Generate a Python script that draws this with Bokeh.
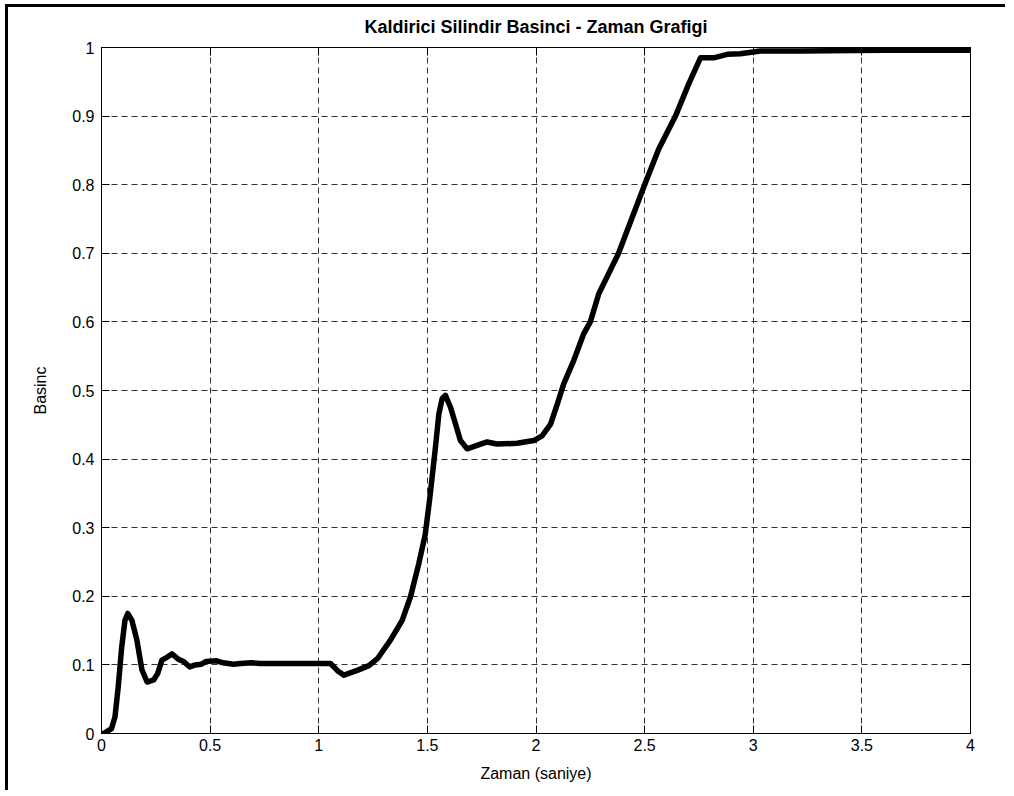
from bokeh.plotting import figure
from bokeh.models import LinearAxis, Range1d, FixedTicker
from bokeh.embed import file_html
from bokeh.resources import INLINE

# Time (s) and pressure values
t = [0.0, 0.01, 0.046, 0.062, 0.077, 0.093, 0.108, 0.121, 0.14, 0.163, 0.186, 0.21,
     0.24, 0.258, 0.278, 0.301, 0.324, 0.355, 0.378, 0.406, 0.432, 0.46, 0.482, 0.53,
     0.56, 0.607, 0.64, 0.692, 0.73, 0.8, 0.9, 1.0, 1.054, 1.085, 1.116, 1.177, 1.231,
     1.27, 1.33, 1.384, 1.422, 1.46, 1.49, 1.51, 1.522, 1.537, 1.553, 1.568, 1.583,
     1.606, 1.629, 1.652, 1.683, 1.729, 1.775, 1.82, 1.913, 1.99, 2.028, 2.067, 2.098,
     2.128, 2.174, 2.22, 2.25, 2.289, 2.38, 2.5, 2.565, 2.642, 2.703, 2.757, 2.818,
     2.88, 2.94, 3.033, 3.22, 3.6, 4.0]
pressure = [0.0, 0.0, 0.007, 0.024, 0.068, 0.126, 0.165, 0.175, 0.165, 0.136, 0.093, 0.075,
            0.078, 0.087, 0.107, 0.111, 0.116, 0.108, 0.105, 0.097, 0.100, 0.101, 0.105, 0.106,
            0.103, 0.101, 0.102, 0.103, 0.102, 0.102, 0.102, 0.102, 0.102, 0.092, 0.085, 0.092, 0.099,
            0.109, 0.136, 0.165, 0.199, 0.247, 0.29, 0.34, 0.374, 0.417, 0.466, 0.488, 0.493,
            0.476, 0.452, 0.427, 0.415, 0.42, 0.425, 0.422, 0.423, 0.427, 0.434, 0.451, 0.48,
            0.51, 0.544, 0.583, 0.6, 0.641, 0.7, 0.8, 0.852, 0.9, 0.947, 0.985, 0.985,
            0.99, 0.991, 0.995, 0.995, 0.996, 0.996]

x_ticks = [0, 0.5, 1, 1.5, 2, 2.5, 3, 3.5, 4]
y_ticks = [0, 0.1, 0.2, 0.3, 0.4, 0.5, 0.6, 0.7, 0.8, 0.9, 1]
x_labels = {0: "0", 0.5: "0.5", 1: "1", 1.5: "1.5", 2: "2", 2.5: "2.5", 3: "3", 3.5: "3.5", 4: "4"}
y_labels = {0: "0", 0.1: "0.1", 0.2: "0.2", 0.3: "0.3", 0.4: "0.4", 0.5: "0.5",
            0.6: "0.6", 0.7: "0.7", 0.8: "0.8", 0.9: "0.9", 1: "1"}

FONT = "Liberation Sans"

p = figure(width=1000, height=786, output_backend="svg", toolbar_location=None,
           x_range=Range1d(0, 4), y_range=Range1d(0, 1),
           min_border_left=93, min_border_right=38, min_border_top=40, min_border_bottom=60,
           x_axis_label="Zaman (saniye)", y_axis_label="Basinc",
           title="Kaldirici Silindir Basinci - Zaman Grafigi")

p.styles = {"border-top": "3px solid black", "border-left": "3px solid black",
            "margin-left": "5px", "margin-top": "4px"}

p.title.align = "center"
p.title.vertical_align = "top"
p.title.text_font = FONT
p.title.text_font_size = "18px"
p.title.text_font_style = "bold"
p.title.text_color = "black"
p.title.standoff = 18

p.outline_line_color = "black"
p.outline_line_width = 1
p.background_fill_color = "white"
p.border_fill_color = "white"

for ax in [p.xaxis[0], p.yaxis[0]]:
    ax.major_label_text_font = FONT
    ax.major_label_text_font_size = "16px"
    ax.major_label_text_color = "black"
    ax.axis_label_text_font = FONT
    ax.axis_label_text_font_size = "16px"
    ax.axis_label_text_font_style = "normal"
    ax.axis_label_text_color = "black"
    ax.major_tick_in = 8
    ax.major_tick_out = 0
    ax.minor_tick_in = 0
    ax.minor_tick_out = 0
    ax.axis_line_color = "black"
    ax.major_tick_line_color = "black"

p.xaxis[0].ticker = FixedTicker(ticks=x_ticks)
p.yaxis[0].ticker = FixedTicker(ticks=y_ticks)
p.xaxis[0].major_label_overrides = x_labels
p.yaxis[0].major_label_overrides = y_labels
p.xaxis[0].major_label_standoff = 5
p.yaxis[0].major_label_standoff = 7
p.xaxis[0].axis_label_standoff = 11
p.yaxis[0].axis_label_standoff = 20

# top and right axes with inward ticks, no labels
top = LinearAxis(ticker=FixedTicker(ticks=x_ticks),
                 major_label_overrides={k: "" for k in x_ticks},
                 major_label_text_font_size="1px",
                 major_tick_in=8, major_tick_out=0, minor_tick_in=0, minor_tick_out=0,
                 axis_line_color="black", major_tick_line_color="black")
right = LinearAxis(ticker=FixedTicker(ticks=y_ticks),
                   major_label_overrides={k: "" for k in y_ticks},
                   major_label_text_font_size="1px",
                   major_tick_in=8, major_tick_out=0, minor_tick_in=0, minor_tick_out=0,
                   axis_line_color="black", major_tick_line_color="black")
top.major_label_standoff = 0
right.major_label_standoff = 0
p.add_layout(top, "above")
p.add_layout(right, "right")

p.xgrid.ticker = FixedTicker(ticks=x_ticks)
p.ygrid.ticker = FixedTicker(ticks=y_ticks)
for g in [p.xgrid[0], p.ygrid[0]]:
    g.grid_line_color = "#333333"
    g.grid_line_width = 1
    g.grid_line_dash = "6 4"

p.line(t, pressure, line_color="black", line_width=5.5, line_join="round", line_cap="round")

open("out.html", "w").write(file_html(p, INLINE))
